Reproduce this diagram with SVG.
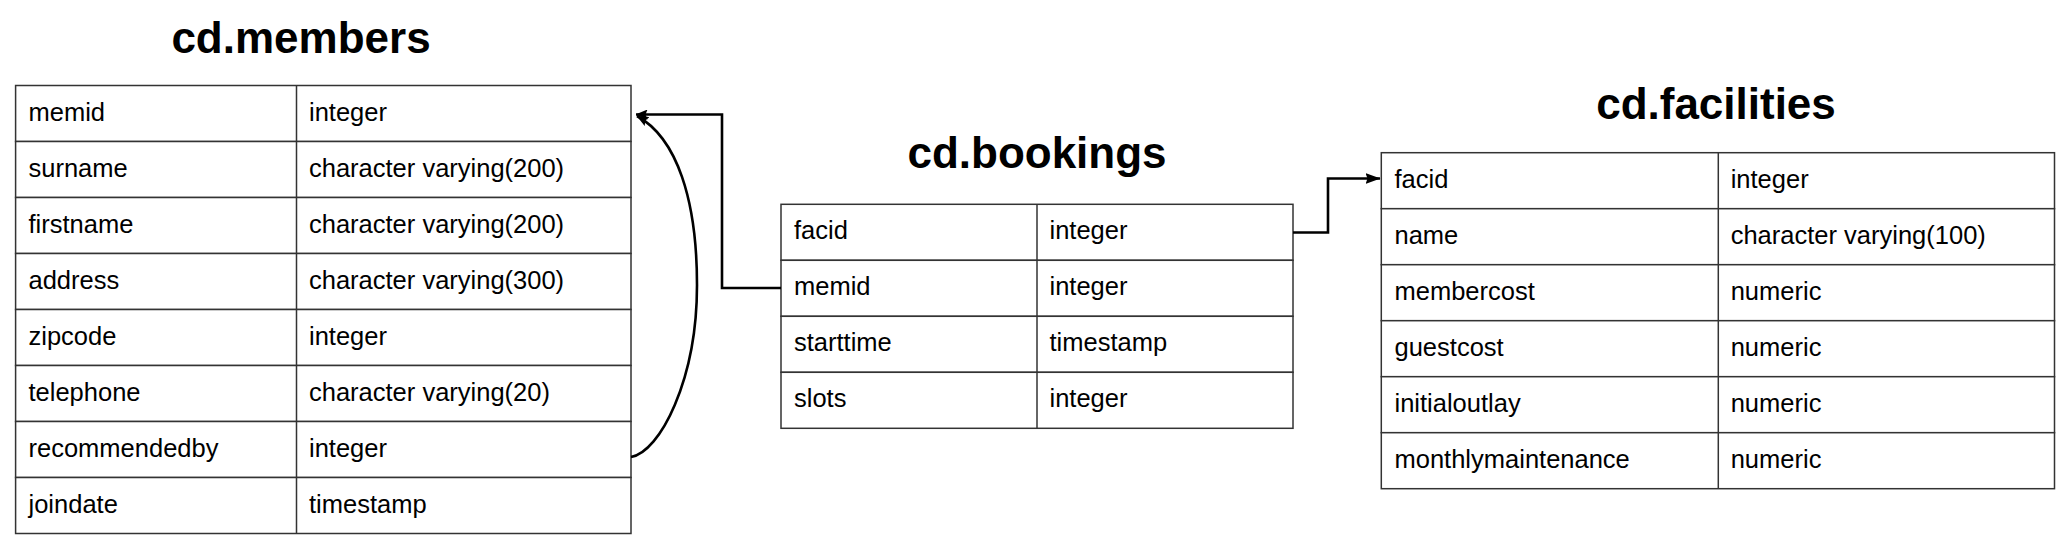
<svg xmlns="http://www.w3.org/2000/svg" width="2071" height="551" viewBox="0 0 2071 551">
<style>
.bg{fill:#ffffff}
.cell{fill:#ffffff;stroke:#333333;stroke-width:1.5}
.div{stroke:#333333;stroke-width:1.5}
.title{font-family:"Liberation Sans",Arial,sans-serif;font-weight:bold;font-size:44px;fill:#000000;text-anchor:middle}
.t{font-family:"Liberation Sans",Arial,sans-serif;font-size:25.5px;fill:#000000}
.edge{fill:none;stroke:#000000;stroke-width:2.6}
</style>
<defs>
<marker id="arrow" markerUnits="userSpaceOnUse" markerWidth="15" markerHeight="11" refX="14.5" refY="5.5" orient="auto">
<path d="M0,0 L15,5.5 L0,11 L2,5.5 z" fill="#000000"/>
</marker>
<marker id="arrowSmall" markerUnits="userSpaceOnUse" markerWidth="12" markerHeight="10" refX="11.5" refY="5" orient="auto">
<path d="M0,0 L12,5 L0,10 L2,5 z" fill="#000000"/>
</marker>
</defs>
<rect class="bg" x="0" y="0" width="2071" height="551"/>

<g id="members">
<text class="title" x="301" y="52.7">cd.members</text>
<rect class="cell" x="15.6" y="85.5" width="615.4" height="56"/>
<rect class="cell" x="15.6" y="141.5" width="615.4" height="56"/>
<rect class="cell" x="15.6" y="197.5" width="615.4" height="56"/>
<rect class="cell" x="15.6" y="253.5" width="615.4" height="56"/>
<rect class="cell" x="15.6" y="309.5" width="615.4" height="56"/>
<rect class="cell" x="15.6" y="365.5" width="615.4" height="56"/>
<rect class="cell" x="15.6" y="421.5" width="615.4" height="56"/>
<rect class="cell" x="15.6" y="477.5" width="615.4" height="56"/>
<line class="div" x1="296.5" y1="85.5" x2="296.5" y2="533.5"/>
<text class="t" x="28.5" y="120.5">memid</text><text class="t" x="309" y="120.5">integer</text>
<text class="t" x="28.5" y="176.5">surname</text><text class="t" x="309" y="176.5">character varying(200)</text>
<text class="t" x="28.5" y="232.5">firstname</text><text class="t" x="309" y="232.5">character varying(200)</text>
<text class="t" x="28.5" y="288.5">address</text><text class="t" x="309" y="288.5">character varying(300)</text>
<text class="t" x="28.5" y="344.5">zipcode</text><text class="t" x="309" y="344.5">integer</text>
<text class="t" x="28.5" y="400.5">telephone</text><text class="t" x="309" y="400.5">character varying(20)</text>
<text class="t" x="28.5" y="456.5">recommendedby</text><text class="t" x="309" y="456.5">integer</text>
<text class="t" x="28.5" y="512.5">joindate</text><text class="t" x="309" y="512.5">timestamp</text>
</g>

<g id="bookings">
<text class="title" x="1037" y="167.7">cd.bookings</text>
<rect class="cell" x="781" y="204.3" width="512" height="56"/>
<rect class="cell" x="781" y="260.3" width="512" height="56"/>
<rect class="cell" x="781" y="316.3" width="512" height="56"/>
<rect class="cell" x="781" y="372.3" width="512" height="56"/>
<line class="div" x1="1037" y1="204.3" x2="1037" y2="428.3"/>
<text class="t" x="794" y="239.3">facid</text><text class="t" x="1049.5" y="239.3">integer</text>
<text class="t" x="794" y="295.3">memid</text><text class="t" x="1049.5" y="295.3">integer</text>
<text class="t" x="794" y="351.3">starttime</text><text class="t" x="1049.5" y="351.3">timestamp</text>
<text class="t" x="794" y="407.3">slots</text><text class="t" x="1049.5" y="407.3">integer</text>
</g>

<g id="facilities">
<text class="title" x="1716" y="119.3">cd.facilities</text>
<rect class="cell" x="1381.3" y="152.7" width="673.2" height="56"/>
<rect class="cell" x="1381.3" y="208.7" width="673.2" height="56"/>
<rect class="cell" x="1381.3" y="264.7" width="673.2" height="56"/>
<rect class="cell" x="1381.3" y="320.7" width="673.2" height="56"/>
<rect class="cell" x="1381.3" y="376.7" width="673.2" height="56"/>
<rect class="cell" x="1381.3" y="432.7" width="673.2" height="56"/>
<line class="div" x1="1718.3" y1="152.7" x2="1718.3" y2="488.7"/>
<text class="t" x="1394.5" y="187.7">facid</text><text class="t" x="1730.7" y="187.7">integer</text>
<text class="t" x="1394.5" y="243.7">name</text><text class="t" x="1730.7" y="243.7">character varying(100)</text>
<text class="t" x="1394.5" y="299.7">membercost</text><text class="t" x="1730.7" y="299.7">numeric</text>
<text class="t" x="1394.5" y="355.7">guestcost</text><text class="t" x="1730.7" y="355.7">numeric</text>
<text class="t" x="1394.5" y="411.7">initialoutlay</text><text class="t" x="1730.7" y="411.7">numeric</text>
<text class="t" x="1394.5" y="467.7">monthlymaintenance</text><text class="t" x="1730.7" y="467.7">numeric</text>
</g>

<g id="connectors">
<path class="edge" d="M781,288 H722 V114.5 H636" marker-end="url(#arrowSmall)"/>
<path class="edge" d="M631,457 C660,452 697,380 697,285 C697,200 677,138 637,116" marker-end="url(#arrowSmall)"/>
<path class="edge" d="M1293,232.5 H1328 V178.5 H1380" marker-end="url(#arrow)"/>
</g>
</svg>
